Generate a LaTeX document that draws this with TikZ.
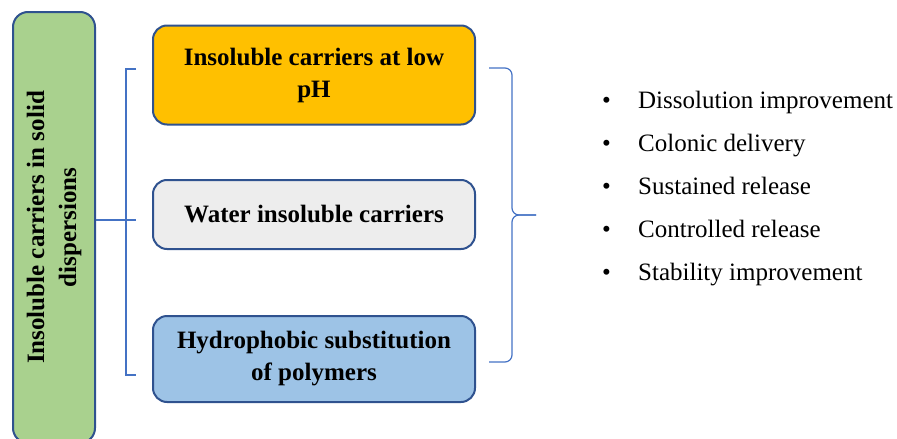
\documentclass[tikz,border=0pt]{standalone}
\usepackage{fontspec}
\setmainfont{Liberation Serif}
\usetikzlibrary{positioning}
\definecolor{edge}{HTML}{2F528F}
\definecolor{linkblue}{HTML}{4472C4}
\definecolor{gold}{HTML}{FFC000}
\definecolor{pale}{HTML}{EDEDED}
\definecolor{sky}{HTML}{9DC3E6}
\definecolor{leaf}{HTML}{A9D18E}
\tikzset{x=1pt, y=-1pt, node distance=141pt,
  box/.style={draw=edge, line width=2pt, rounded corners=14pt, minimum width=322pt,
    align=center, font=\fontsize{25}{32}\selectfont\bfseries},
  brk/.style={draw=linkblue, line width=1.2pt},
  item/.style={anchor=base west, inner sep=0pt, font=\fontsize{25}{30}\selectfont}}

\begin{document}
\begin{tikzpicture}
    \useasboundingbox (0,0) rectangle (897,439);
    \clip (0,0) rectangle (897,439);
    \node[box, fill=leaf, rotate=90, minimum width=431pt, minimum height=82pt, rounded corners=15pt] (side) at (54,227.5) {Insoluble carriers in solid\\dispersions};
    \node[box, fill=gold, minimum height=99pt] (low) at (314,75) {Insoluble carriers at low\\pH};
    \node[box, fill=pale, minimum height=69pt, below of=low, node distance=139.5pt] (water) {Water insoluble carriers};
    \node[box, fill=sky, minimum height=86pt, below of=water, node distance=144.5pt] (hydro) {Hydrophobic substitution\\of polymers};
    % left bracket
    \coordinate (fork) at (126,220);
    \draw[brk] (side.south |- fork) -- (136,220);
    \draw[brk] (136,69) -| (fork) |- (136,375);
    % right brace
    \coordinate (tip) at (536,215);
    \draw[brk, rounded corners=7pt] (489,68) -- (512,68) -- (512,215) -- (tip);
    \draw[brk, rounded corners=7pt] (489,362) -- (512,362) -- (512,215) -- (tip);
    \foreach \txt [count=\i] in {Dissolution improvement, Colonic delivery, Sustained release, Controlled release, Stability improvement}
        \node[item] (use\i) at (602, 65+43*\i) {\makebox[36pt][l]{\textbullet}\txt};
\end{tikzpicture}
\end{document}
